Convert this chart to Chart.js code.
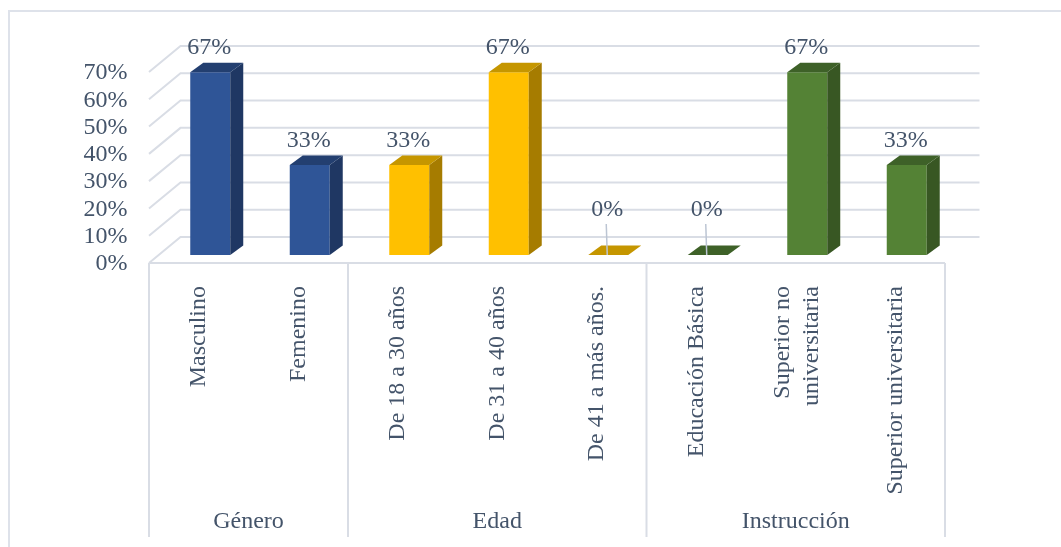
<!DOCTYPE html>
<html lang="es">
<head>
<meta charset="UTF-8">
<title>Género, Edad, Instrucción</title>
<script src="https://cdn.jsdelivr.net/npm/chart.js"></script>
<style>
  html, body { margin: 0; padding: 0; background: #fff; }
  #wrap { position: relative; width: 1061px; height: 547px; }
</style>
</head>
<body>
<div id="wrap"><canvas id="chart"></canvas></div>
<script>
const groups = ['Género', 'Edad', 'Instrucción'];
const groupSizes = [2, 3, 3];
const categories = [
  'Masculino', 'Femenino',
  'De 18 a 30 años', 'De 31 a 40 años', 'De 41 a más años.',
  'Educación Básica', ['Superior no', 'universitaria'], 'Superior universitaria'
];
const values = [0.67, 0.33, 0.33, 0.67, 0, 0, 0.67, 0.33];
const yTickValues = [0, 0.1, 0.2, 0.3, 0.4, 0.5, 0.6, 0.7];

// front / top / side shade for each group
const groupColors = [
  { front: '#2f5597', top: '#233f70', side: '#1f3763' },
  { front: '#ffc000', top: '#c59600', side: '#a67c00' },
  { front: '#548235', top: '#3e6128', side: '#385723' }
];
const barColors = groupSizes.flatMap((n, k) => Array(n).fill(groupColors[k]));

const TEXT = '#44546a';
const LINE = '#d9dde5';
const FONT = '"Liberation Serif", "Times New Roman", serif';

// offsets from the bar plane to the floor front, the back wall, and bar depth
const FRONT = { dx: -11.5, dy: 8 };
const BACK = { dx: 20, dy: -18 };
const DEPTH = { dx: 13, dy: -9.5 };

const scene3d = {
  id: 'scene3d',
  beforeDraw(chart) {
    const { ctx, width, height } = chart;
    ctx.save();
    ctx.strokeStyle = '#dee2ea';
    ctx.lineWidth = 2;
    ctx.beginPath();
    ctx.moveTo(9, height);
    ctx.lineTo(9, 11);
    ctx.lineTo(width, 11);
    ctx.stroke();
    ctx.restore();

    // centre two-line tick labels on their category (Chart.js starts the first line at the tick)
    const items = chart.scales.x.getLabelItems(chart.chartArea);
    if (!items._centred) {
      items.forEach(it => {
        if (Array.isArray(it.label) && it.label.length > 1) {
          it.options.translation[0] -= 13;
        }
      });
      items._centred = true;
    }
  },
  beforeDatasetsDraw(chart) {
    const { ctx, chartArea: a, scales: { y } } = chart;
    const step = a.width / categories.length;
    const fx = a.left + FRONT.dx, bx = a.left + BACK.dx;
    ctx.save();
    ctx.strokeStyle = LINE;
    ctx.lineWidth = 2;
    yTickValues.forEach(v => {
      const py = y.getPixelForValue(v);
      ctx.beginPath();
      ctx.moveTo(fx, py + FRONT.dy);
      ctx.lineTo(bx, py + BACK.dy);
      ctx.lineTo(a.right + 23, py + BACK.dy);
      ctx.stroke();
    });
    // floor edge + group separators
    const floorY = y.getPixelForValue(0) + FRONT.dy;
    ctx.beginPath();
    ctx.moveTo(fx, floorY);
    ctx.lineTo(a.right + FRONT.dx, floorY);
    let idx = 0;
    [0, ...groupSizes].forEach(n => {
      idx += n;
      const sx = a.left + idx * step + FRONT.dx;
      ctx.moveTo(sx, floorY);
      ctx.lineTo(sx, 537);
    });
    ctx.stroke();
    ctx.restore();
  },
  afterDatasetsDraw(chart) {
    const { ctx, chartArea: a } = chart;
    const step = a.width / categories.length;
    const meta = chart.getDatasetMeta(0);
    ctx.save();
    meta.data.forEach((bar, i) => {
      const { x: bx, y: by, base, width: w } = bar.getProps(['x', 'y', 'base', 'width'], true);
      const l = bx - w / 2, r = bx + w / 2;
      const c = barColors[i];
      // side
      if (base - by > 0.5) {
        ctx.fillStyle = c.side;
        ctx.beginPath();
        ctx.moveTo(r, by);
        ctx.lineTo(r + DEPTH.dx, by + DEPTH.dy);
        ctx.lineTo(r + DEPTH.dx, base + DEPTH.dy);
        ctx.lineTo(r, base);
        ctx.closePath();
        ctx.fill();
      }
      // top
      ctx.fillStyle = c.top;
      ctx.beginPath();
      ctx.moveTo(l, by);
      ctx.lineTo(l + DEPTH.dx, by + DEPTH.dy);
      ctx.lineTo(r + DEPTH.dx, by + DEPTH.dy);
      ctx.lineTo(r, by);
      ctx.closePath();
      ctx.fill();

      // value label
      const txt = Math.round(values[i] * 100) + '%';
      ctx.font = '24px ' + FONT;
      ctx.fillStyle = TEXT;
      ctx.textAlign = 'center';
      ctx.textBaseline = 'middle';
      if (values[i] === 0) {
        ctx.strokeStyle = '#bcc5d3';
        ctx.lineWidth = 1.5;
        ctx.beginPath();
        ctx.moveTo(bx - 2, base - 31);
        ctx.lineTo(bx - 1, base);
        ctx.stroke();
        ctx.fillText(txt, bx - 1, base - 45);
      } else {
        ctx.fillText(txt, bx - 1, by - 24);
      }
    });

    // group labels
    let start = 0;
    ctx.font = '24px ' + FONT;
    ctx.fillStyle = TEXT;
    ctx.textAlign = 'center';
    ctx.textBaseline = 'middle';
    groups.forEach((g, k) => {
      const cx = a.left + (start + groupSizes[k] / 2) * step + FRONT.dx;
      ctx.fillText(g, cx, 522);
      start += groupSizes[k];
    });
    ctx.restore();
  }
};

Chart.defaults.font.family = FONT;
Chart.defaults.font.size = 24;
Chart.defaults.color = TEXT;

new Chart(document.getElementById('chart'), {
  type: 'bar',
  data: {
    labels: categories,
    datasets: [{
      data: values,
      backgroundColor: barColors.map(c => c.front),
      borderWidth: 0,
      barPercentage: 0.402,
      categoryPercentage: 1
    }]
  },
  options: {
    responsive: true,
    maintainAspectRatio: false,
    animation: false,
    layout: { padding: { top: 64, right: 104.5, bottom: 0, left: 0 } },
    plugins: { legend: { display: false }, tooltip: { enabled: false } },
    scales: {
      x: {
        grid: { display: false },
        border: { display: false },
        ticks: { autoSkip: false, minRotation: 90, maxRotation: 90, padding: 23, labelOffset: -11.5 },
        afterFit: s => { s.height = 292; }
      },
      y: {
        min: 0,
        max: 0.7,
        grid: { display: false },
        border: { display: false },
        afterBuildTicks: s => { s.ticks = yTickValues.map(v => ({ value: v })); },
        ticks: { autoSkip: false, padding: 25, labelOffset: 9, callback: v => Math.round(v * 100) + '%' },
        afterFit: s => { s.width = 160.5; }
      }
    }
  },
  plugins: [scene3d]
});
</script>
</body>
</html>
